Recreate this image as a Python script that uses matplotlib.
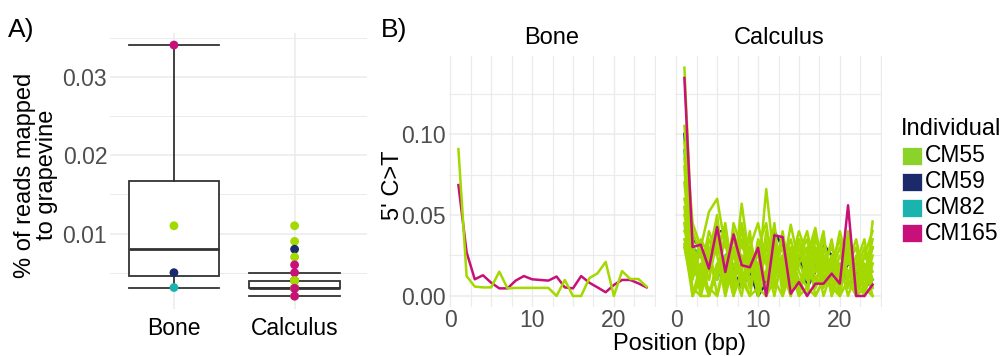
import matplotlib
matplotlib.use("Agg")
import matplotlib.pyplot as plt
from matplotlib.patches import Rectangle
import numpy as np

plt.rcParams['font.family'] = ['Liberation Sans', 'DejaVu Sans']

# ---------------- data ----------------
individuals = ["CM55", "CM59", "CM82", "CM165"]
colors = {"CM55": "#A3D800", "CM59": "#1B2A6B", "CM82": "#1BB3AD", "CM165": "#C8107A"}
legend_colors = {"CM55": "#8BD22A", "CM59": "#1B2A6B", "CM82": "#1BB3AD", "CM165": "#C8107A"}

# Panel A: % of reads mapped to grapevine
bone_values = [0.0031, 0.0050, 0.0110, 0.0341]
bone_indiv = ["CM82", "CM59", "CM55", "CM165"]
calc_values = [0.002, 0.003, 0.003, 0.003, 0.003, 0.003, 0.003, 0.003, 0.003, 0.003,
               0.003, 0.003, 0.004, 0.004, 0.004, 0.004, 0.004,
               0.011, 0.009, 0.008, 0.007, 0.006, 0.005, 0.004, 0.003, 0.002]
calc_indiv = ["CM55", "CM55", "CM82", "CM55", "CM59", "CM55", "CM55", "CM82", "CM55", "CM55",
              "CM55", "CM55", "CM55", "CM55", "CM82", "CM55", "CM55",
              "CM55", "CM55", "CM59", "CM55", "CM165", "CM165", "CM55", "CM165", "CM165"]

# Panel B: 5' C>T by position
positions = list(range(1, 25))
bone_CM55 = [0.0907, 0.0123, 0.0058, 0.0053, 0.0053, 0.0150, 0.0047, 0.0050, 0.0050, 0.0050,
             0.0050, 0.0050, 0.0000, 0.0099, 0.0000, 0.0000, 0.0110, 0.0140, 0.0210, 0.0000,
             0.0154, 0.0105, 0.0105, 0.0058]
bone_CM165 = [0.0685, 0.0270, 0.0103, 0.0128, 0.0082, 0.0047, 0.0047, 0.0095, 0.0123, 0.0103,
              0.0099, 0.0095, 0.0120, 0.0053, 0.0047, 0.0123, 0.0082, 0.0053, 0.0023, 0.0068,
              0.0099, 0.0099, 0.0078, 0.0053]

calc_CM55_1 = [0.141, 0.030, 0.000, 0.000, 0.020, 0.015, 0.010, 0.057, 0.020, 0.010, 0.066, 0.020,
               0.015, 0.044, 0.020, 0.010, 0.030, 0.020, 0.010, 0.000, 0.040, 0.010, 0.000, 0.046]
calc_CM55_2 = [0.105, 0.045, 0.030, 0.052, 0.060, 0.030, 0.025, 0.040, 0.015, 0.020, 0.030, 0.010,
               0.035, 0.020, 0.040, 0.025, 0.042, 0.015, 0.020, 0.010, 0.025, 0.000, 0.015, 0.020]
calc_CM55_3 = [0.095, 0.020, 0.025, 0.010, 0.040, 0.000, 0.045, 0.030, 0.025, 0.000, 0.040, 0.025,
               0.010, 0.030, 0.000, 0.020, 0.015, 0.035, 0.010, 0.025, 0.015, 0.020, 0.010, 0.035]
calc_CM55_4 = [0.080, 0.000, 0.015, 0.040, 0.025, 0.045, 0.010, 0.020, 0.035, 0.015, 0.005, 0.030,
               0.020, 0.000, 0.025, 0.035, 0.010, 0.020, 0.030, 0.015, 0.035, 0.010, 0.025, 0.015]
calc_CM55_5 = [0.060, 0.035, 0.000, 0.020, 0.030, 0.020, 0.035, 0.010, 0.000, 0.030, 0.020, 0.000,
               0.025, 0.015, 0.030, 0.010, 0.025, 0.000, 0.015, 0.030, 0.010, 0.025, 0.000, 0.020]
calc_CM55_6 = [0.055, 0.010, 0.030, 0.000, 0.015, 0.035, 0.000, 0.045, 0.020, 0.025, 0.010, 0.035,
               0.005, 0.025, 0.010, 0.000, 0.035, 0.025, 0.005, 0.020, 0.000, 0.015, 0.030, 0.010]
calc_CM55_7 = [0.050, 0.025, 0.010, 0.030, 0.000, 0.025, 0.015, 0.000, 0.030, 0.010, 0.025, 0.015,
               0.040, 0.010, 0.020, 0.030, 0.000, 0.010, 0.025, 0.000, 0.030, 0.005, 0.020, 0.000]
calc_CM55_8 = [0.045, 0.000, 0.020, 0.015, 0.045, 0.010, 0.030, 0.025, 0.005, 0.035, 0.000, 0.020,
               0.030, 0.005, 0.035, 0.015, 0.020, 0.040, 0.000, 0.015, 0.020, 0.030, 0.005, 0.025]
calc_CM55_9 = [0.040, 0.030, 0.015, 0.000, 0.020, 0.005, 0.025, 0.015, 0.040, 0.000, 0.015, 0.045,
               0.000, 0.020, 0.005, 0.025, 0.005, 0.015, 0.035, 0.005, 0.025, 0.000, 0.015, 0.030]
calc_CM55_10 = [0.035, 0.015, 0.035, 0.025, 0.010, 0.040, 0.005, 0.035, 0.010, 0.020, 0.035, 0.005,
                0.020, 0.035, 0.015, 0.005, 0.030, 0.005, 0.020, 0.035, 0.005, 0.020, 0.035, 0.005]
calc_CM55_11 = [0.030, 0.005, 0.000, 0.035, 0.025, 0.000, 0.020, 0.010, 0.025, 0.005, 0.030, 0.020,
                0.015, 0.000, 0.025, 0.040, 0.015, 0.025, 0.000, 0.020, 0.015, 0.005, 0.025, 0.040]
calc_CM55_12 = [0.085, 0.040, 0.025, 0.010, 0.035, 0.015, 0.040, 0.020, 0.030, 0.045, 0.020, 0.030,
                0.010, 0.025, 0.035, 0.020, 0.005, 0.030, 0.015, 0.040, 0.020, 0.035, 0.010, 0.030]
calc_CM55_13 = [0.070, 0.020, 0.005, 0.025, 0.050, 0.005, 0.030, 0.005, 0.015, 0.030, 0.045, 0.010,
                0.025, 0.030, 0.005, 0.015, 0.040, 0.010, 0.025, 0.015, 0.030, 0.015, 0.020, 0.005]
calc_CM55_14 = [0.032, 0.000, 0.010, 0.005, 0.000, 0.020, 0.000, 0.015, 0.000, 0.005, 0.000, 0.010,
                0.000, 0.015, 0.000, 0.005, 0.000, 0.010, 0.005, 0.000, 0.010, 0.000, 0.005, 0.000]
calc_CM59 = [0.100, 0.035, 0.030, 0.020, 0.040, 0.040, 0.015, 0.005, 0.015, 0.000, 0.008, 0.040,
             0.030, 0.020, 0.025, 0.005, 0.015, 0.032, 0.025, 0.010, 0.020, 0.015, 0.005, 0.010]
calc_CM82 = [0.090, 0.030, 0.025, 0.020, 0.010, 0.025, 0.030, 0.005, 0.015, 0.020, 0.025, 0.020,
             0.010, 0.015, 0.005, 0.012, 0.020, 0.010, 0.015, 0.020, 0.008, 0.010, 0.015, 0.030]
calc_CM165 = [0.1346, 0.0302, 0.0317, 0.0169, 0.0426, 0.0148, 0.0380, 0.0190, 0.0177, 0.0298,
              0.0000, 0.0374, 0.0364, 0.0014, 0.0086, 0.0000, 0.0076, 0.0076, 0.0138, 0.0076,
              0.0560, 0.0000, 0.0000, 0.0070]

calc_series = [
    ("CM59", calc_CM59), ("CM82", calc_CM82),
    ("CM55", calc_CM55_1), ("CM55", calc_CM55_2), ("CM55", calc_CM55_3), ("CM55", calc_CM55_4),
    ("CM55", calc_CM55_5), ("CM55", calc_CM55_6), ("CM55", calc_CM55_7), ("CM55", calc_CM55_8),
    ("CM55", calc_CM55_9), ("CM55", calc_CM55_10), ("CM55", calc_CM55_11), ("CM55", calc_CM55_12),
    ("CM55", calc_CM55_13), ("CM55", calc_CM55_14),
    ("CM165", calc_CM165),
]
bone_series = [("CM165", bone_CM165), ("CM55", bone_CM55)]

# ---------------- figure ----------------
W, H = 1005, 356
fig = plt.figure(figsize=(W / 100, H / 100), dpi=100)
fig.patch.set_facecolor("white")


def add_ax(left, right, top, bottom):
    return fig.add_axes([left / W, 1 - bottom / H, (right - left) / W, (bottom - top) / H])


GRID = "#EBEBEB"
TICKC = "#4D4D4D"
FS = 16.5

# ---- Panel A ----
axA = add_ax(110, 367, 32.5, 308.7)
for sp in axA.spines.values():
    sp.set_visible(False)
allv = bone_values + calc_values
lo, hi = min(allv), max(allv)
pad = (hi - lo) * 0.05
axA.set_ylim(lo - pad, hi + pad)
axA.set_xlim(0.47, 2.6)
for yv in [0.005, 0.015, 0.025, 0.035]:
    axA.axhline(yv, color=GRID, lw=0.7, zorder=0)
for yv in [0.01, 0.02, 0.03]:
    axA.axhline(yv, color=GRID, lw=1.1, zorder=0)
for xv in [1, 2]:
    axA.axvline(xv, color=GRID, lw=1.1, zorder=0)

bp = axA.boxplot([bone_values, calc_values], positions=[1, 2], widths=0.75,
                 whis=1.5, showfliers=False, patch_artist=True, capwidths=0.75,
                 boxprops=dict(facecolor="white", edgecolor="#333333", linewidth=1.3),
                 whiskerprops=dict(color="#333333", linewidth=1.3),
                 capprops=dict(color="#333333", linewidth=1.3),
                 medianprops=dict(color="#333333", linewidth=2.0))
for el in bp["boxes"] + bp["whiskers"] + bp["caps"] + bp["medians"]:
    el.set_zorder(2)

axA.scatter([1] * len(bone_values), bone_values, c=[colors[i] for i in bone_indiv],
            s=40, zorder=5, linewidths=0)
axA.scatter([2] * len(calc_values), calc_values, c=[colors[i] for i in calc_indiv],
            s=40, zorder=5, linewidths=0)
axA.set_yticks([0.01, 0.02, 0.03])
axA.set_yticklabels(["0.01", "0.02", "0.03"])
axA.set_xticks([1, 2])
axA.set_xticklabels(["Bone", "Calculus"])
axA.tick_params(axis="y", length=0, pad=2, labelsize=FS, labelcolor=TICKC)
axA.tick_params(axis="x", length=0, pad=6, labelsize=FS, labelcolor="black")
fig.text(36 / W, 1 - 175 / H, "% of reads mapped\nto grapevine", rotation=90,
         ha="center", va="center", fontsize=17, linespacing=1.0)
fig.text(8 / W, 1 - 30 / H, "A)", fontsize=19, ha="left", va="center")

# ---- Panel B ----
ymax_b = max(max(s) for _, s in calc_series + bone_series)
ymin_b = 0.0
padb = (ymax_b - ymin_b) * 0.05
padx = (24 - 1) * 0.05


def style_b(ax):
    for sp in ax.spines.values():
        sp.set_visible(False)
    ax.set_xlim(1 - padx, 24 + padx)
    ax.set_ylim(ymin_b - padb, ymax_b + padb)
    for xv in np.arange(0, 25.1, 2.5):
        ax.axvline(xv, color=GRID, lw=1.0 if xv % 5 == 0 else 0.8, zorder=0)
    for yv in [0.025, 0.075, 0.125]:
        ax.axhline(yv, color=GRID, lw=0.8, zorder=0)
    for yv in [0.0, 0.05, 0.10]:
        ax.axhline(yv, color=GRID, lw=1.1, zorder=0)
    ax.set_xticks([0, 10, 20])
    ax.set_xticklabels(["0", "10", "20"])
    ax.tick_params(axis="both", length=0, labelsize=FS, labelcolor=TICKC)
    ax.tick_params(axis="x", pad=1)


axB1 = add_ax(449, 656, 56.2, 307.4)
axB2 = add_ax(675, 882, 56.2, 307.4)
style_b(axB1)
style_b(axB2)
axB1.set_yticks([0.0, 0.05, 0.10])
axB1.set_yticklabels(["0.00", "0.05", "0.10"])
axB1.tick_params(axis="y", pad=2)
axB2.set_yticks([0.0, 0.05, 0.10])
axB2.set_yticklabels([])

for ind, s in bone_series:
    axB1.plot(positions, s, color=colors[ind], lw=1.8, zorder=3)
for ind, s in calc_series:
    axB2.plot(positions, s, color=colors[ind], lw=1.8, zorder=3)

fig.text(552 / W, 1 - 37.5 / H, "Bone", ha="center", va="center", fontsize=17)
fig.text(779 / W, 1 - 37.5 / H, "Calculus", ha="center", va="center", fontsize=17)
fig.text(679 / W, 1 - 344 / H, "Position (bp)", ha="center", va="center", fontsize=17)
fig.text(393 / W, 1 - 185 / H, "5' C>T", rotation=90, ha="center", va="center", fontsize=17)
fig.text(381 / W, 1 - 30 / H, "B)", fontsize=19, ha="left", va="center")

# ---- Legend ----
fig.text(901 / W, 1 - 129 / H, "Individual", ha="left", va="center", fontsize=17)
key_y = [156, 182, 208, 233]
for ind, ky in zip(individuals, key_y):
    fig.patches.append(Rectangle((902 / W, 1 - (ky + 9) / H), 20 / W, 18 / H,
                                 transform=fig.transFigure, facecolor=legend_colors[ind],
                                 edgecolor="white", lw=0.5))
    fig.text(925 / W, 1 - ky / H, ind, ha="left", va="center", fontsize=16.5)

fig.savefig("out.png", dpi=100, facecolor="white")
